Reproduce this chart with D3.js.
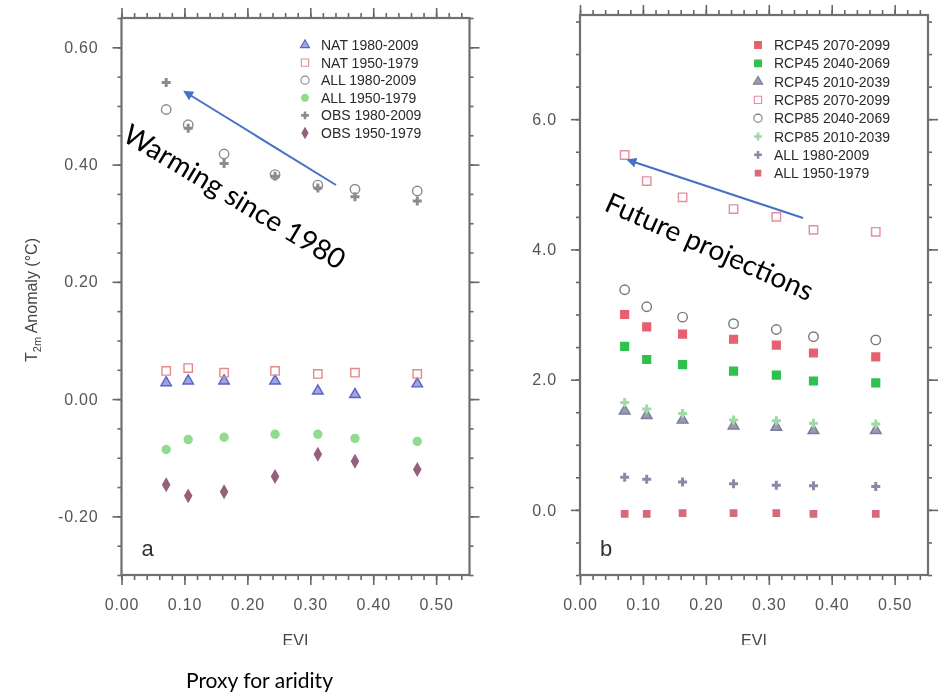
<!DOCTYPE html>
<html>
<head>
<meta charset="utf-8">
<script src="https://cdn.jsdelivr.net/npm/d3@7"></script>
<style>
  html, body { margin: 0; padding: 0; background: #fff; }
  svg { display: block; }
  .tick text { font-family: "Liberation Sans", Arial, sans-serif; font-size: 16px; fill: #555; letter-spacing: 0.8px; }
  .tick line { stroke: #666; stroke-width: 1.6; }
  .frame { fill: none; stroke: #6f6f6f; stroke-width: 2.2; }
  .legend text { font-family: "Liberation Sans", Arial, sans-serif; font-size: 14px; fill: #2a2a2a; }
  .axis-title { font-family: "Liberation Sans", Arial, sans-serif; font-size: 16px; fill: #444; }
  .panel-letter { font-family: "Liberation Sans", Arial, sans-serif; font-size: 22px; fill: #333; }
  .note { font-family: Lato, "Open Sans", sans-serif; font-size: 28px; fill: #000; }
</style>
</head>
<body>
<svg id="chart" width="938" height="693"></svg>
<script>
// EVI bins shared by both panels
var EVI = [0.071, 0.106, 0.163, 0.244, 0.312, 0.371, 0.470];

var X_TICKS = [0, 0.1, 0.2, 0.3, 0.4, 0.5];
var LEFT_Y_TICKS = [-0.2, 0, 0.2, 0.4, 0.6];
var RIGHT_Y_TICKS = [0, 2, 4, 6];

// panel a
var LEFT_NAMES = ['NAT 1980-2009', 'NAT 1950-1979', 'ALL 1980-2009', 'ALL 1950-1979', 'OBS 1980-2009', 'OBS 1950-1979'];
var NAT_1980 = [0.028, 0.031, 0.031, 0.031, 0.014, 0.008, 0.026];
var NAT_1950 = [0.048, 0.053, 0.045, 0.048, 0.043, 0.045, 0.043];
var ALL_1980 = [0.494, 0.468, 0.418, 0.383, 0.365, 0.358, 0.355];
var ALL_1950 = [-0.086, -0.069, -0.065, -0.060, -0.060, -0.067, -0.072];
var OBS_1980 = [0.540, 0.462, 0.402, 0.380, 0.360, 0.345, 0.338];
var OBS_1950 = [-0.146, -0.165, -0.158, -0.132, -0.094, -0.106, -0.120];

// panel b
var RIGHT_NAMES = ['RCP45 2070-2099', 'RCP45 2040-2069', 'RCP45 2010-2039', 'RCP85 2070-2099', 'RCP85 2040-2069', 'RCP85 2010-2039', 'ALL 1980-2009', 'ALL 1950-1979'];
var RCP45_2070 = [3.00, 2.81, 2.70, 2.62, 2.53, 2.41, 2.35];
var RCP45_2040 = [2.51, 2.31, 2.23, 2.13, 2.07, 1.98, 1.95];
var RCP45_2010 = [1.52, 1.45, 1.38, 1.29, 1.27, 1.22, 1.22];
var RCP85_2070 = [5.45, 5.05, 4.80, 4.62, 4.50, 4.30, 4.27];
var RCP85_2040 = [3.38, 3.12, 2.96, 2.86, 2.77, 2.66, 2.61];
var RCP85_2010 = [1.65, 1.55, 1.48, 1.38, 1.37, 1.33, 1.32];
var B_ALL_1980 = [0.50, 0.47, 0.43, 0.40, 0.38, 0.37, 0.36];
var B_ALL_1950 = [-0.06, -0.06, -0.05, -0.05, -0.05, -0.06, -0.06];

(function () {
  'use strict';

  // marker look per series name (kept apart from the values)
  var STYLE = {
    'NAT 1980-2009': { sym: d3.symbolTriangle, size: 48, fill: '#9ea3e6', stroke: '#5a62c2' },
    'NAT 1950-1979': { sym: d3.symbolSquare, size: 70, fill: 'none', stroke: '#e58a8a' },
    'ALL 1980-2009': { sym: d3.symbolCircle, size: 70, fill: 'none', stroke: '#8a8a8a' },
    'ALL 1950-1979': { sym: d3.symbolCircle, size: 50, fill: '#8fdc8f', stroke: '#8fdc8f' },
    'OBS 1980-2009': { sym: d3.symbolCross, size: 45, fill: '#8c8c8c', stroke: 'none' },
    'OBS 1950-1979': { sym: d3.symbolDiamond, size: 42, fill: '#95607c', stroke: '#95607c' },
    'RCP45 2070-2099': { sym: d3.symbolSquare, size: 60, fill: '#e6616f', stroke: '#e6616f' },
    'RCP45 2040-2069': { sym: d3.symbolSquare, size: 60, fill: '#2ec14d', stroke: '#2ec14d' },
    'RCP45 2010-2039': { sym: d3.symbolTriangle, size: 50, fill: '#9a9ab4', stroke: '#7c7c9a' },
    'RCP85 2070-2099': { sym: d3.symbolSquare, size: 70, fill: 'none', stroke: '#e48d9c' },
    'RCP85 2040-2069': { sym: d3.symbolCircle, size: 70, fill: 'none', stroke: '#777' },
    'RCP85 2010-2039': { sym: d3.symbolCross, size: 45, fill: '#9fd9a6', stroke: 'none' },
    'B ALL 1980-2009': { sym: d3.symbolCross, size: 45, fill: '#8a8aa8', stroke: 'none' },
    'B ALL 1950-1979': { sym: d3.symbolSquare, size: 40, fill: '#d66a7a', stroke: '#d66a7a' }
  };

  var svg = d3.select('#chart');

  var defs = svg.append('defs');
  defs.append('filter').attr('id', 'soft')
    .append('feGaussianBlur').attr('stdDeviation', 0.55);
  defs.append('marker')
    .attr('id', 'arrow')
    .attr('viewBox', '0 0 10 10')
    .attr('refX', 2).attr('refY', 5)
    .attr('markerWidth', 5).attr('markerHeight', 5)
    .attr('orient', 'auto-start-reverse')
    .append('path')
    .attr('d', 'M0,0 L10,5 L0,10 z')
    .attr('fill', '#4472c4');

  var charts = svg.append('g').attr('filter', 'url(#soft)');

  // plain hyphen for negatives, like the source plot
  function fmt(spec) {
    var f = d3.format(spec);
    return function (d) { return f(d).replace('\u2212', '-'); };
  }

  function drawPanel(p) {
    var g = charts.append('g');
    var x = d3.scaleLinear().domain([0, 0.553]).range([p.left, p.left + 348]);
    var y = d3.scaleLinear().domain(p.yDomain).range([575, p.top]);
    var xMinor = d3.range(0, 0.551, 0.02);
    var yMinor = d3.range(p.yDomain[0], p.yDomain[1] + 1e-9, p.yMinorStep);

    function axis(gen, transform) {
      var a = g.append('g').attr('transform', transform).call(gen.tickSizeOuter(0));
      a.select('.domain').remove();
      return a;
    }

    // minor ticks (no labels)
    axis(d3.axisBottom(x).tickValues(xMinor).tickSize(5).tickFormat(''), 'translate(0,575)');
    axis(d3.axisTop(x).tickValues(xMinor).tickSize(5).tickFormat(''), 'translate(0,' + p.top + ')');
    axis(d3.axisLeft(y).tickValues(yMinor).tickSize(4).tickFormat(''), 'translate(' + p.left + ',0)');
    axis(d3.axisRight(y).tickValues(yMinor).tickSize(4).tickFormat(''), 'translate(' + (p.left + 348) + ',0)');

    // major ticks
    axis(d3.axisBottom(x).tickValues(X_TICKS).tickSize(10).tickPadding(14).tickFormat(fmt('.2f')), 'translate(0,575)');
    axis(d3.axisTop(x).tickValues(X_TICKS).tickSize(10).tickFormat(''), 'translate(0,' + p.top + ')');
    axis(d3.axisLeft(y).tickValues(p.yTicks).tickSize(9).tickPadding(14).tickFormat(fmt(p.yFormat)), 'translate(' + p.left + ',0)');
    axis(d3.axisRight(y).tickValues(p.yTicks).tickSize(10).tickFormat(''), 'translate(' + (p.left + 348) + ',0)');

    g.append('rect').attr('class', 'frame')
      .attr('x', p.left).attr('y', p.top)
      .attr('width', 348).attr('height', 575 - p.top);

    g.append('text').attr('class', 'axis-title')
      .attr('x', p.left + 174).attr('y', 646)
      .attr('text-anchor', 'middle')
      .text('EVI');

    g.append('text').attr('class', 'panel-letter')
      .attr('x', p.left + 20).attr('y', 556)
      .text(p.letter);

    p.series.forEach(function (s) {
      var st = STYLE[s.key];
      var sym = d3.symbol().type(st.sym).size(st.size);
      g.append('g').selectAll('path')
        .data(s.values)
        .enter()
        .append('path')
        .attr('d', sym)
        .attr('transform', function (d, i) { return 'translate(' + x(EVI[i]) + ',' + y(d) + ')'; })
        .attr('fill', st.fill)
        .attr('stroke', st.stroke)
        .attr('stroke-width', 1.4);
    });

    var lg = g.append('g').attr('class', 'legend');
    p.series.forEach(function (s, i) {
      var st = STYLE[s.key];
      var ly = p.legendY + i * p.legendStep;
      lg.append('path')
        .attr('d', d3.symbol().type(st.sym).size(st.size * 0.75))
        .attr('transform', 'translate(' + p.legendX + ',' + ly + ')')
        .attr('fill', st.fill)
        .attr('stroke', st.stroke)
        .attr('stroke-width', 1.1);
      lg.append('text')
        .attr('x', p.legendX + 16).attr('y', ly + 5)
        .text(s.name);
    });
    return { x: x, y: y };
  }

  drawPanel({
    left: 121.5, top: 18, yDomain: [-0.30, 0.65], yTicks: LEFT_Y_TICKS, yMinorStep: 0.05,
    yFormat: '.2f', letter: 'a', legendX: 305, legendY: 45, legendStep: 17.6,
    series: [
      { key: 'NAT 1980-2009', name: LEFT_NAMES[0], values: NAT_1980 },
      { key: 'NAT 1950-1979', name: LEFT_NAMES[1], values: NAT_1950 },
      { key: 'ALL 1980-2009', name: LEFT_NAMES[2], values: ALL_1980 },
      { key: 'ALL 1950-1979', name: LEFT_NAMES[3], values: ALL_1950 },
      { key: 'OBS 1980-2009', name: LEFT_NAMES[4], values: OBS_1980 },
      { key: 'OBS 1950-1979', name: LEFT_NAMES[5], values: OBS_1950 }
    ]
  });

  drawPanel({
    left: 580, top: 15, yDomain: [-1.0, 7.6], yTicks: RIGHT_Y_TICKS, yMinorStep: 0.5,
    yFormat: '.1f', letter: 'b', legendX: 758, legendY: 45, legendStep: 18.3,
    series: [
      { key: 'RCP45 2070-2099', name: RIGHT_NAMES[0], values: RCP45_2070 },
      { key: 'RCP45 2040-2069', name: RIGHT_NAMES[1], values: RCP45_2040 },
      { key: 'RCP45 2010-2039', name: RIGHT_NAMES[2], values: RCP45_2010 },
      { key: 'RCP85 2070-2099', name: RIGHT_NAMES[3], values: RCP85_2070 },
      { key: 'RCP85 2040-2069', name: RIGHT_NAMES[4], values: RCP85_2040 },
      { key: 'RCP85 2010-2039', name: RIGHT_NAMES[5], values: RCP85_2010 },
      { key: 'B ALL 1980-2009', name: RIGHT_NAMES[6], values: B_ALL_1980 },
      { key: 'B ALL 1950-1979', name: RIGHT_NAMES[7], values: B_ALL_1950 }
    ]
  });

  // y axis title of panel a
  var yt = charts.append('text').attr('class', 'axis-title')
    .attr('transform', 'translate(37,300) rotate(-90)')
    .attr('text-anchor', 'middle');
  yt.append('tspan').text('T');
  yt.append('tspan').attr('font-size', '11px').attr('dy', 4).text('2m');
  yt.append('tspan').attr('dy', -4).text(' Anomaly (°C)');

  // the source figure is cropped through the EVI labels
  svg.append('rect').attr('x', 0).attr('y', 645).attr('width', 938).attr('height', 48).attr('fill', '#fff');

  // slide annotations
  svg.append('line')
    .attr('x1', 336).attr('y1', 185).attr('x2', 190).attr('y2', 95)
    .attr('stroke', '#4472c4').attr('stroke-width', 2)
    .attr('marker-end', 'url(#arrow)');
  svg.append('line')
    .attr('x1', 803).attr('y1', 218).attr('x2', 634).attr('y2', 162)
    .attr('stroke', '#4472c4').attr('stroke-width', 2)
    .attr('marker-end', 'url(#arrow)');

  svg.append('text').attr('class', 'note')
    .attr('transform', 'translate(121,140) rotate(31)')
    .text('Warming since 1980');
  svg.append('text').attr('class', 'note')
    .attr('transform', 'translate(603,210) rotate(24)')
    .text('Future projections');
  svg.append('text').attr('class', 'note')
    .attr('x', 186).attr('y', 688)
    .style('font-size', '21px')
    .text('Proxy for aridity');
})();
</script>
</body>
</html>
